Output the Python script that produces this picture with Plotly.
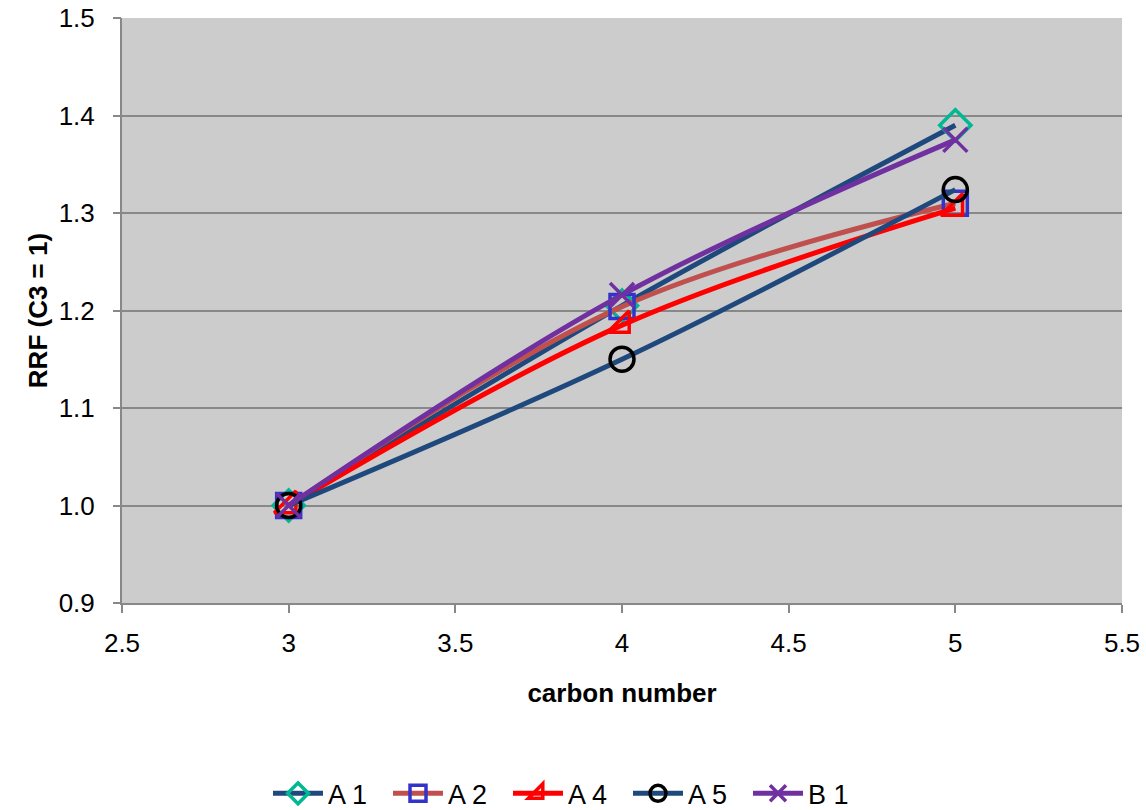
import plotly.graph_objects as go

carbon = [3, 4, 5]
a1 = [1.0, 1.205, 1.39]
a2 = [1.0, 1.204, 1.31]
a4 = [1.0, 1.185, 1.305]
a5 = [1.0, 1.15, 1.324]
b1 = [1.0, 1.216, 1.375]

series = [
    ("A 1", a1, "#1F497D", "diamond-open", "#00B894"),
    ("A 2", a2, "#C0504D", "square-open", "#3333CC"),
    ("A 4", a4, "#FF0000", "triangle-se-open", "#FF0000"),
    ("A 5", a5, "#1F497D", "circle-open", "#000000"),
    ("B 1", b1, "#7030A0", "x-thin-open", "#7030A0"),
]

fig = go.Figure()
for name, ys, lc, sym, mc in series:
    fig.add_trace(go.Scatter(
        x=carbon, y=ys, name=name, mode="lines+markers",
        line=dict(color=lc, width=5, shape="spline"),
        marker=dict(symbol=sym, size=24, color=mc, line=dict(color=mc, width=3.5)),
    ))
# empty helper trace so the tick-only overlay axis is drawn
fig.add_trace(go.Scatter(x=[], y=[], yaxis="y2", showlegend=False, hoverinfo="skip"))

yrange = [0.9, 1.5]
fig.update_layout(
    width=1146, height=810,
    margin=dict(l=122, r=24, t=18, b=207, autoexpand=False),
    paper_bgcolor="white", plot_bgcolor="#CCCCCC",
    font=dict(family="Liberation Sans, Arial, sans-serif", size=26, color="black"),
    showlegend=True,
    legend=dict(orientation="h", x=0.446, xanchor="center", y=0.02, yanchor="middle",
                yref="container", font=dict(size=27), itemwidth=50, tracegroupgap=0,
                entrywidth=55, entrywidthmode="pixels"),
    xaxis=dict(range=[2.5, 5.5], dtick=0.5, showgrid=False, zeroline=False,
               showline=True, linecolor="#888888", linewidth=2, automargin=False,
               ticks="outside", ticklen=8, tickcolor="#888888", tickwidth=2,
               ticklabelstandoff=8,
               title=dict(text="<b>carbon number</b>", font=dict(size=26), standoff=27)),
    yaxis=dict(range=yrange, dtick=0.1, tickformat=".1f", showgrid=True,
               gridcolor="#888888", gridwidth=2, zeroline=False, automargin=False,
               showline=True, linecolor="#888888", linewidth=2,
               ticks="outside", ticklen=20, tickcolor="rgba(0,0,0,0)", tickwidth=2,
               title=dict(text="<b>RRF (C3 = 1)</b>", font=dict(size=26), standoff=4)),
    yaxis2=dict(range=yrange, dtick=0.1, overlaying="y", side="left",
                showgrid=False, zeroline=False, showline=False, showticklabels=False,
                ticks="outside", ticklen=8, tickcolor="#888888", tickwidth=2,
                automargin=False),
)

fig.write_html("out.html")
